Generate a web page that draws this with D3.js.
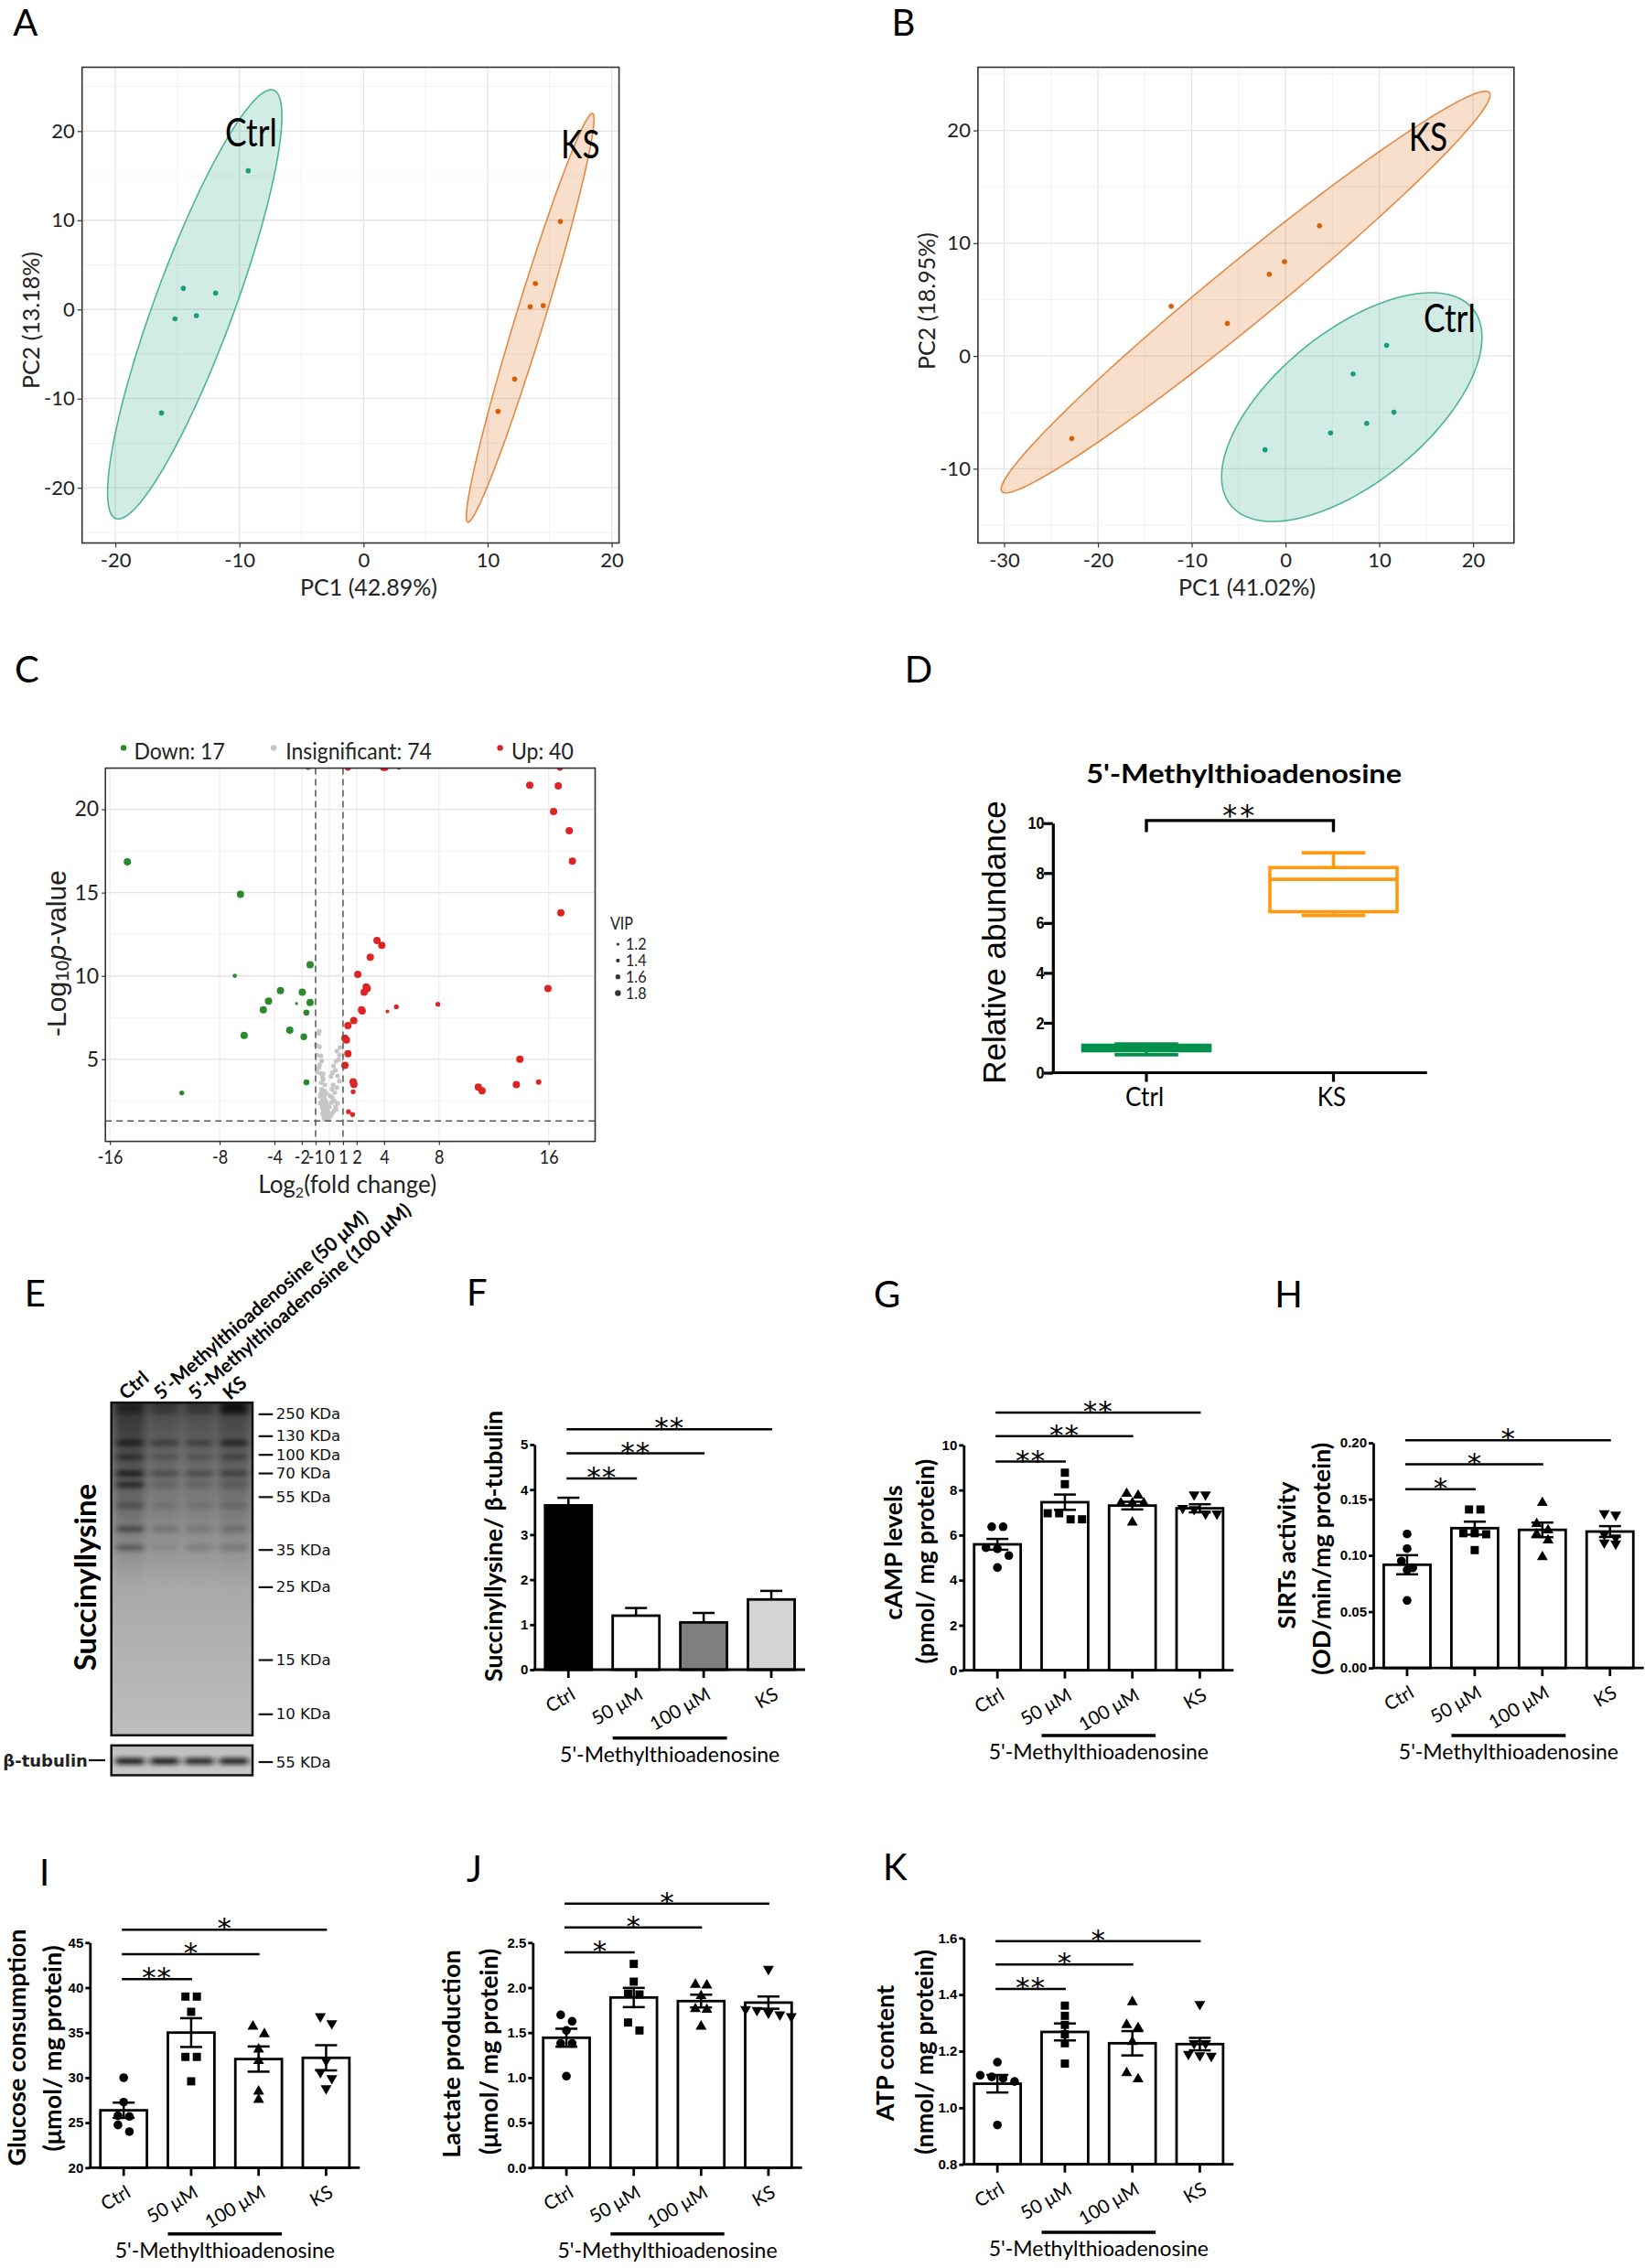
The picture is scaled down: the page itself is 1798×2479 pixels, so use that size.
<!DOCTYPE html>
<html>
<head>
<meta charset="utf-8">
<script src="https://cdn.jsdelivr.net/npm/d3@7/dist/d3.min.js"></script>
<style>
html,body{margin:0;padding:0;background:#fff;}
svg{display:block;}
</style>
</head>
<body>
<svg id="fig" width="1798" height="2479" xmlns="http://www.w3.org/2000/svg"></svg>
<script>
// ======================= DATA =======================
// A: PCA scores (PC1, PC2)
const pcaA_ctrl = [[-9.29,15.55],[-14.52,2.37],[-11.92,1.84],[-15.19,-1.05],[-13.47,-0.70],[-16.28,-11.61]];
const pcaA_ks   = [[15.86,9.86],[13.85,2.89],[13.43,0.31],[14.48,0.44],[12.18,-7.80],[10.84,-11.43]];
// confidence ellipses: centre + two conjugate semi-axis vectors (data units)
const pcaA_ellipses = [
  {cx:-13.6, cy:0.57, ux:6.28, uy:24.05, vx:3.15, vy:-0.90},
  {cx:13.43, cy:-0.94, ux:5.02, uy:22.93, vx:1.15, vy:-0.28}
];
const pcaA_labels = [{text:"Ctrl", x:-9.06, y:18.3},{text:"KS", x:17.47, y:16.96}];

// B: PCA scores
const pcaB_ctrl = [[10.78,0.94],[7.21,-1.60],[11.56,-4.99],[8.66,-5.97],[4.80,-6.83],[-2.18,-8.32]];
const pcaB_ks   = [[3.63,11.55],[-0.11,8.36],[-1.73,7.25],[-12.18,4.41],[-6.20,2.88],[-22.79,-7.32]];
const pcaB_ellipses = [
  {cx:7.07, cy:-4.53, ux:11.75, uy:9.51, vx:7.39, vy:-3.52},
  {cx:-4.25, cy:5.67, ux:25.92, uy:17.74, vx:2.80, vy:-1.575}
];
const pcaB_labels = [{text:"Ctrl", x:17.49, y:2.09},{text:"KS", x:15.21, y:18.2}];

// C: volcano plot  [log2FC, -log10 p, VIP]
const volcDown = [[-14.73,16.85,1.8],[-6.48,14.90,1.8],[-6.89,10.01,1.3],[-1.40,10.67,1.8],[-3.56,9.12,1.8],
  [-1.97,9.02,1.8],[-4.43,8.49,1.8],[-2.39,8.34,1.1],[-1.40,8.41,1.8],[-4.81,7.97,1.8],[-1.67,7.80,1.6],
  [-2.88,6.74,1.8],[-6.21,6.43,1.8],[-1.86,6.35,1.7],[-1.67,3.61,1.6],[-10.76,2.98,1.4],[-1.55,22.5,1.4]];
const volcUp = [[1.36,22.5,1.6],[3.94,22.5,1.7],[4.09,22.5,1.7],[5.08,22.5,1.3],[16.82,22.5,1.6],
  [14.62,21.45,1.8],[16.70,21.41,1.8],[16.36,19.87,1.8],[17.5,18.72,1.8],[17.73,16.89,1.8],[16.89,13.79,1.8],
  [3.48,12.12,1.8],[3.83,11.84,1.8],[2.99,11.12,1.8],[2.08,10.10,1.8],[2.69,9.34,1.8],[2.77,9.25,1.8],
  [2.54,9.02,1.8],[15.95,9.25,1.8],[7.92,8.30,1.4],[4.89,8.15,1.4],[4.24,7.87,1.2],[2.35,7.97,1.8],
  [1.78,7.32,1.8],[1.36,7.02,1.8],[1.14,6.26,1.8],[1.25,6.15,1.8],[1.36,5.33,1.8],[1.14,4.63,1.8],
  [13.9,5.0,1.8],[1.74,3.65,1.8],[1.74,3.05,1.4],[10.87,3.33,1.8],[11.14,3.11,1.8],[13.64,3.48,1.8],
  [15.27,3.63,1.5],[1.40,1.85,1.4],[1.70,1.68,1.4],[1.80,3.50,1.8],[2.40,7.90,1.8]];
const volcNs = [[-0.73,6.68],[-0.78,6.55],[-0.95,5.85],[-0.71,5.75],[-0.88,5.25],[-0.61,5.21],[-0.71,4.67],
  [-0.88,4.24],[-0.61,4.15],[-0.44,4.12],[-0.44,3.79],[-0.33,3.46],[-0.66,2.78],[-0.37,2.78],[-0.44,2.36],
  [-0.66,2.36],[-0.21,2.29],[-0.17,2.05],[-0.44,1.87],[-0.28,1.68],[-0.21,1.50],
  [0.79,5.71],[0.56,5.49],[0.74,5.25],[0.67,4.98],[0.49,4.88],[0.45,4.34],[0.23,4.19],[0.12,3.97],
  [0.74,3.69],[0.29,3.46],[-0.21,2.96],[0.23,2.69],[0.45,2.14],[0.0,2.14],[-0.11,1.87],
  [-0.55,3.20],[-0.50,3.05],[-0.35,3.10],[-0.60,2.95],[-0.45,2.60],[-0.30,2.55],[-0.55,2.50],[-0.25,2.45],
  [-0.40,2.20],[-0.52,2.10],[-0.30,2.00],[-0.20,1.95],[-0.35,1.80],[-0.48,1.75],[-0.15,1.72],[-0.30,1.60],
  [-0.40,1.55],[-0.10,1.55],[-0.25,1.45],[-0.35,1.40],[-0.05,1.42],[0.10,1.60],[0.20,1.75],[0.35,1.90],
  [0.50,2.00],[0.15,2.40],[0.35,2.50],[0.60,2.35],[0.05,2.80],[0.40,3.00],[0.55,3.30],[0.20,3.20],
  [-0.60,3.60],[-0.50,3.90],[-0.75,4.50],[-0.55,4.90],[0.30,4.60],[0.60,4.00]];
const volcTicksX = [-16,-8,-4,-2,-1,0,1,2,4,8,16];
const volcTicksY = [5,10,15,20];
const vipLegend = [1.2,1.4,1.6,1.8];
const fcThreshold = 1, pThreshold = 0.05;

// D: box plot  [min, q1, median, q3, max]
const boxCats = ["Ctrl","KS"];
const boxStats = [[0.72,0.88,1.0,1.1,1.15],[6.3,6.45,7.75,8.22,8.81]];

// E: western blot
const blotLanes = ["Ctrl","5'-Methylthioadenosine (50 μM)","5'-Methylthioadenosine (100 μM)","KS"];
const markerLabels = ["250 KDa","130 KDa","100 KDa","70 KDa","55 KDa","35 KDa","25 KDa","15 KDa","10 KDa"];
const markerRf = [0.035,0.101,0.157,0.213,0.284,0.443,0.555,0.774,0.937];
const bandRf = [0.015,0.121,0.164,0.213,0.247,0.31,0.38,0.436];
const bandIntensity = [[0.55,0.35,0.35,0.95],[0.8,0.5,0.45,0.8],[0.6,0.25,0.25,0.4],[0.95,0.45,0.45,0.55],
  [0.85,0.2,0.2,0.25],[0.4,0.15,0.15,0.2],[0.6,0.25,0.2,0.25],[0.5,0.1,0.2,0.25]];
const laneSmear = [0.45,0.2,0.2,0.3];
const tubulinIntensity = [0.95,0.95,0.9,0.92];

// F–K: bar charts (mean, SEM, individual values)
const barCats = ["Ctrl","50 μM","100 μM","KS"];
const fMeans = [3.65,1.20,1.05,1.56], fSem = [0.17,0.17,0.21,0.19], fSig = ["**","**","**"];
const gMeans = [5.59,7.46,7.31,7.19], gSem = [0.24,0.34,0.17,0.18], gSig = ["**","**","**"];
const gPoints = [[6.37,6.37,5.39,5.44,5.09,4.56],[8.77,8.26,6.97,6.97,6.70,6.70],[7.76,7.84,7.42,7.42,7.42,6.56],[7.80,7.80,7.20,6.95,6.95,7.15]];
const hMeans = [0.0917,0.1242,0.1227,0.1212], hSem = [0.0085,0.0058,0.0065,0.0048], hSig = ["*","*","*"];
const hPoints = [[0.119,0.106,0.095,0.089,0.087,0.060],[0.1408,0.1408,0.1188,0.1197,0.1197,0.1047],[0.1468,0.128,0.1188,0.1224,0.1134,0.0986],[0.136,0.1374,0.1158,0.1104,0.1113,0.1188]];
const iMeans = [26.37,35.0,32.06,32.2], iSem = [0.85,1.6,1.4,1.4], iSig = ["**","*","*"];
const iPoints = [[29.99,27.28,25.76,25.69,24.74,24.0],[39.0,39.0,37.31,32.30,32.30,29.59],[34.84,35.68,33.14,31.86,27.55,28.47],[36.02,36.8,31.89,30.6,29.93,28.8]];
const jMeans = [1.443,1.89,1.85,1.833], jSem = [0.10,0.107,0.071,0.068], jSig = ["*","*","*"];
const jPoints = [[1.697,1.626,1.524,1.38,1.38,1.016],[2.263,2.066,1.934,1.924,1.612,1.524],[2.026,2.033,1.907,1.755,1.762,1.568],[2.205,1.75,1.70,1.72,1.76,1.68]];
const kMeans = [1.085,1.268,1.228,1.225], kSem = [0.031,0.03,0.043,0.022], kSig = ["**","*","*"];
const kPoints = [[1.161,1.115,1.109,1.104,1.093,0.939],[1.361,1.325,1.293,1.26,1.228,1.156],[1.374,1.282,1.293,1.233,1.123,1.101],[1.366,1.228,1.228,1.19,1.185,1.183]];

// ======================= DRAWING =======================
const svg = d3.select("#fig");
svg.append("rect").attr("width",1798).attr("height",2479).attr("fill","#fff");
const defs = svg.append("defs");
const CAL = "Lato, 'Open Sans', 'DejaVu Sans', sans-serif";
const ARI = "'Liberation Sans', Arial, sans-serif";
const VER = "'DejaVu Sans', Verdana, sans-serif";

function txt(g, x, y, s, o = {}) {
  let tr = `translate(${x},${y})`;
  if (o.rotate) tr += ` rotate(${o.rotate})`;
  if (o.sx) tr += ` scale(${o.sx},1)`;
  const t = g.append("text").attr("transform", tr)
    .attr("font-family", o.family || CAL)
    .attr("font-size", o.size || 20)
    .attr("font-weight", o.weight || "normal")
    .attr("text-anchor", o.anchor || "start")
    .attr("fill", o.fill || "#000");
  if (o.baseline) t.attr("dominant-baseline", o.baseline);
  if (o.italic) t.attr("font-style", "italic");
  if (o.ls !== undefined) t.attr("letter-spacing", o.ls);
  if (s !== null) t.text(s);
  return t;
}
function ln(g, x1, y1, x2, y2, w, col, dash) {
  const l = g.append("line").attr("x1",x1).attr("y1",y1).attr("x2",x2).attr("y2",y2)
    .attr("stroke", col || "#000").attr("stroke-width", w || 1);
  if (dash) l.attr("stroke-dasharray", dash);
  return l;
}

// panel letters
[["A",14.2,38.5],["B",974.5,38.5],["C",15.9,745.5],["D",988.8,745.5],["E",26.7,1428.2],["F",510,1427.3],
 ["G",955,1428.5],["H",1393.3,1429.2],["I",43,2061],["J",510,2057],["K",965,2055]]
 .forEach(([l,x,y]) => txt(svg, x, y, l, {size:40}));

// ---------------- PCA ----------------
const GREEN = "#1b9e77", ORANGE = "#d95f02";
function drawPCA(c) {
  const g = svg.append("g");
  const x = d3.scaleLinear().domain(c.xDom).range([c.x0, c.x1]);
  const y = d3.scaleLinear().domain(c.yDom).range([c.y1, c.y0]);
  const clip = "clip" + c.id;
  defs.append("clipPath").attr("id", clip).append("rect")
    .attr("x", c.x0).attr("y", c.y0).attr("width", c.x1 - c.x0).attr("height", c.y1 - c.y0);
  const inner = g.append("g").attr("clip-path", `url(#${clip})`);
  d3.range(Math.ceil(c.xDom[0]/5)*5, c.xDom[1], 5).forEach(v =>
    ln(inner, x(v), c.y0, x(v), c.y1, v % 10 === 0 ? 1.3 : 0.9, v % 10 === 0 ? "#e4e4e4" : "#f1f1f1"));
  d3.range(Math.ceil(c.yDom[0]/5)*5, c.yDom[1], 5).forEach(v =>
    ln(inner, c.x0, y(v), c.x1, y(v), v % 10 === 0 ? 1.3 : 0.9, v % 10 === 0 ? "#e4e4e4" : "#f1f1f1"));
  const line = d3.line().x(d => x(d[0])).y(d => y(d[1])).curve(d3.curveLinearClosed);
  const fills = ["rgba(27,158,119,0.2)","rgba(217,95,2,0.2)"];
  const strokes = ["rgba(27,158,119,0.75)","rgba(217,95,2,0.7)"];
  c.ellipses.forEach((e, i) => {
    const pts = d3.range(0, 360, 2).map(a => { const t = a*Math.PI/180;
      return [e.cx + e.ux*Math.cos(t) + e.vx*Math.sin(t), e.cy + e.uy*Math.cos(t) + e.vy*Math.sin(t)]; });
    inner.append("path").attr("d", line(pts)).attr("fill", fills[i]).attr("stroke", strokes[i]).attr("stroke-width", 1.6);
  });
  c.groups.forEach((grp, i) => {
    inner.selectAll(null).data(grp).join("circle")
      .attr("cx", d => x(d[0])).attr("cy", d => y(d[1])).attr("r", 2.8).attr("fill", [GREEN, ORANGE][i]);
  });
  c.labels.forEach(l => txt(g, x(l.x), y(l.y), l.text, {size:42, anchor:"middle", sx:0.84}));
  g.append("rect").attr("x", c.x0).attr("y", c.y0).attr("width", c.x1-c.x0).attr("height", c.y1-c.y0)
    .attr("fill","none").attr("stroke","#333").attr("stroke-width",1.6);
  const xa = g.append("g").attr("transform", `translate(0,${c.y1})`)
    .call(d3.axisBottom(x).tickValues(c.xTicks).tickFormat(String).tickSize(5).tickPadding(6).tickSizeOuter(0));
  const ya = g.append("g").attr("transform", `translate(${c.x0},0)`)
    .call(d3.axisLeft(y).tickValues(c.yTicks).tickFormat(String).tickSize(5).tickPadding(3).tickSizeOuter(0));
  [xa, ya].forEach(a => {
    a.select(".domain").remove();
    a.selectAll(".tick line").attr("stroke","#333").attr("stroke-width",1.2);
    a.selectAll(".tick text").attr("font-family", CAL).attr("font-size", 22).attr("fill","#222");
  });
  txt(g, c.xtPos[0], c.xtPos[1], c.xTitle, {size:25, anchor:"middle", fill:"#222"});
  txt(g, c.ytPos[0], c.ytPos[1], c.yTitle, {size:25, anchor:"middle", rotate:-90, baseline:"central", fill:"#222"});
}
drawPCA({id:"A", x0:89.7, x1:676.6, y0:73.5, y1:593.5, xDom:[-22.68,20.59], yDom:[-26.19,27.16],
  xTicks:[-20,-10,0,10,20], yTicks:[-20,-10,0,10,20], groups:[pcaA_ctrl,pcaA_ks], ellipses:pcaA_ellipses,
  labels:pcaA_labels, xTitle:"PC1 (42.89%)", xtPos:[403,651], yTitle:"PC2 (13.18%)", ytPos:[33,350]});
drawPCA({id:"B", x0:1068.9, x1:1654.8, y0:73.5, y1:593.5, xDom:[-32.79,24.36], yDom:[-16.58,25.6],
  xTicks:[-30,-20,-10,0,10,20], yTicks:[-10,0,10,20], groups:[pcaB_ctrl,pcaB_ks], ellipses:pcaB_ellipses,
  labels:pcaB_labels, xTitle:"PC1 (41.02%)", xtPos:[1363,651], yTitle:"PC2 (18.95%)", ytPos:[1011.5,329]});

// ---------------- Volcano ----------------
(function drawVolcano() {
  const g = svg.append("g");
  const X0 = 115.2, X1 = 650.5, Y0 = 839.6, Y1 = 1247.6;
  const x = d3.scaleLinear().domain([-16.33,19.39]).range([X0,X1]);
  const y = d3.scaleLinear().domain([0.07,22.47]).range([Y1,Y0]);
  const r = d3.scaleLinear().domain([1.2,1.8]).range([2.0,4.0]);
  defs.append("clipPath").attr("id","clipC").append("rect").attr("x",X0).attr("y",Y0).attr("width",X1-X0).attr("height",Y1-Y0);
  const inner = g.append("g").attr("clip-path","url(#clipC)");
  [2.5,7.5,12.5,17.5,22.5].forEach(v => ln(inner, X0, y(v), X1, y(v), 0.9, "#f1f1f1"));
  volcTicksY.forEach(v => ln(inner, X0, y(v), X1, y(v), 1.3, "#e4e4e4"));
  volcTicksX.forEach(v => ln(inner, x(v), Y0, x(v), Y1, 1.1, "#ebebeb"));
  const RED = "#dc2424", DGREEN = "#2b8a2b", GRAY = "#c6c6c6";
  inner.selectAll(null).data(volcNs).join("circle").attr("cx",d=>x(d[0])).attr("cy",d=>y(d[1])).attr("r",2.6).attr("fill",GRAY);
  inner.selectAll(null).data(volcDown).join("circle").attr("cx",d=>x(d[0])).attr("cy",d=>y(d[1])).attr("r",d=>r(d[2])).attr("fill",DGREEN);
  inner.selectAll(null).data(volcUp).join("circle").attr("cx",d=>x(d[0])).attr("cy",d=>y(d[1])).attr("r",d=>r(d[2])).attr("fill",RED);
  const pl = -Math.log10(pThreshold);
  ln(inner, x(-fcThreshold), Y0, x(-fcThreshold), Y1, 1.5, "#555", "7,5");
  ln(inner, x(fcThreshold), Y0, x(fcThreshold), Y1, 1.5, "#555", "7,5");
  ln(inner, X0, y(pl), X1, y(pl), 1.5, "#555", "7,5");
  g.append("rect").attr("x",X0).attr("y",Y0).attr("width",X1-X0).attr("height",Y1-Y0)
    .attr("fill","none").attr("stroke","#333").attr("stroke-width",1.6);
  const xa = g.append("g").attr("transform",`translate(0,${Y1})`)
    .call(d3.axisBottom(x).tickValues(volcTicksX).tickFormat(String).tickSize(4).tickPadding(5).tickSizeOuter(0));
  const ya = g.append("g").attr("transform",`translate(${X0},0)`)
    .call(d3.axisLeft(y).tickValues(volcTicksY).tickFormat(String).tickSize(4).tickPadding(3).tickSizeOuter(0));
  [xa, ya].forEach(a => {
    a.select(".domain").remove();
    a.selectAll(".tick line").attr("stroke","#333").attr("stroke-width",1.2);
    a.selectAll(".tick text").attr("font-family",CAL).attr("font-size",23).attr("fill","#222");
  });
  xa.selectAll(".tick text").attr("font-size",22).attr("transform","scale(0.82,1)");
  // x title
  const xt = txt(g, 379.7, 1304, null, {size:26, anchor:"middle", fill:"#222"});
  xt.append("tspan").text("Log");
  xt.append("tspan").attr("font-size",16).attr("dy",5).text("2");
  xt.append("tspan").attr("dy",-5).text("(fold change)");
  // y title
  const yt = txt(g, 61, 1042, null, {family:ARI, size:30, anchor:"middle", rotate:-90, baseline:"central", fill:"#222"});
  yt.append("tspan").text("-Log");
  yt.append("tspan").attr("font-size",21).attr("dy",6).text("10");
  yt.append("tspan").attr("dy",-6).attr("font-style","italic").text("p");
  yt.append("tspan").text("-value");
  // top legend
  const leg = [[135.1,146.4,DGREEN,`Down: ${volcDown.length}`],[299.1,312.2,GRAY,`Insignificant: ${volcNs.length}`],[546.6,559,RED,`Up: ${volcUp.length}`]];
  leg.forEach(([cx,tx,col,s]) => {
    g.append("circle").attr("cx",cx).attr("cy",817.4).attr("r",3.2).attr("fill",col);
    txt(g, tx, 830, s, {size:25, sx:0.92, fill:"#222"});
  });
  // VIP legend
  txt(g, 666.9, 1016, "VIP", {size:19, sx:0.85, fill:"#222"});
  vipLegend.forEach((v,i) => {
    const yy = 1032.1 + i*17.8;
    g.append("circle").attr("cx",675.4).attr("cy",yy).attr("r",r(v)*0.8).attr("fill","#333");
    txt(g, 684, yy, String(v.toFixed(1)), {size:17, sx:0.95, baseline:"central", fill:"#222"});
  });
})();

// ---------------- Box plot D ----------------
(function drawBox() {
  const g = svg.append("g");
  const x = d3.scalePoint().domain(boxCats).range([1150.8,1559.7]).padding(0.5);
  const y = d3.scaleLinear().domain([0,10]).range([1172.5,899.7]);
  const step = x.step(), bw = step*0.68, cw = step*0.34;
  const cols = ["#00914d","#ff9a10"];
  boxStats.forEach((s,i) => {
    const xc = x(boxCats[i]), col = cols[i];
    const [mn,q1,md,q3,mx] = s;
    ln(g, xc, y(mx), xc, y(q3), 3.6, col);
    ln(g, xc, y(q1), xc, y(mn), 3.6, col);
    ln(g, xc-cw/2, y(mx), xc+cw/2, y(mx), 3.6, col);
    ln(g, xc-cw/2, y(mn), xc+cw/2, y(mn), 3.6, col);
    g.append("rect").attr("x",xc-bw/2).attr("y",y(q3)).attr("width",bw).attr("height",y(q1)-y(q3))
      .attr("fill","none").attr("stroke",col).attr("stroke-width",3.6);
    ln(g, xc-bw/2, y(md), xc+bw/2, y(md), 3.6, col);
  });
  const ya = g.append("g").attr("transform","translate(1150.8,0)")
    .call(d3.axisLeft(y).tickValues([0,2,4,6,8,10]).tickSize(10).tickPadding(1).tickSizeOuter(0));
  ya.select(".domain").attr("stroke-width",3.2);
  ya.selectAll(".tick line").attr("stroke-width",3.2);
  ya.selectAll(".tick text").attr("font-family",ARI).attr("font-weight","bold").attr("font-size",19).attr("transform","scale(0.85,1)");
  ln(g, 1149.2, y(0), 1559.7, y(0), 3.2);
  boxCats.forEach(k => {
    ln(g, x(k), y(0), x(k), y(0)+10, 3.2);
    txt(g, x(k)-2, 1209, k, {size:29, anchor:"middle", sx:0.9});
  });
  txt(g, 1086, 1030, "Relative abundance", {family:ARI, size:35, anchor:"middle", rotate:-90, baseline:"central"});
  txt(g, 1359.6, 856, "5'-Methylthioadenosine", {size:29, weight:"bold", anchor:"middle", sx:1.12});
  const bY = 896.9;
  g.append("path").attr("d",`M${x("Ctrl")},${bY+12.7}V${bY}H${x("KS")}V${bY+12.7}`)
    .attr("fill","none").attr("stroke","#000").attr("stroke-width",3.4);
  txt(g, (x("Ctrl")+x("KS"))/2, bY+5, "**", {family:VER, size:32, anchor:"middle", ls:3});
})();

// ---------------- Western blot E ----------------
(function drawBlot() {
  const g = svg.append("g");
  const bx0 = 121.7, bx1 = 276, by0 = 1533.1, by1 = 1896.7;
  const lane = d3.scaleBand().domain(blotLanes).range([bx0,bx1]).paddingInner(0.12).paddingOuter(0.1);
  const rf = d3.scaleLinear().domain([0,1]).range([by0,by1]);
  const bg = defs.append("linearGradient").attr("id","blotBg").attr("x1",0).attr("x2",0).attr("y1",0).attr("y2",1);
  [[0,"#505050"],[0.05,"#646464"],[0.18,"#7b7b7b"],[0.35,"#929292"],[0.55,"#a8a8a8"],[0.8,"#b4b4b4"],[1,"#bdbdbd"]]
    .forEach(([o,c]) => bg.append("stop").attr("offset",o).attr("stop-color",c));
  const sm = defs.append("linearGradient").attr("id","smear").attr("x1",0).attr("x2",0).attr("y1",0).attr("y2",1);
  [[0,1],[0.5,0.6],[1,0]].forEach(([o,a]) => sm.append("stop").attr("offset",o).attr("stop-color","#000").attr("stop-opacity",a));
  const tb = defs.append("linearGradient").attr("id","tubBg").attr("x1",0).attr("x2",0).attr("y1",0).attr("y2",1);
  [[0,"#bdbdbd"],[0.5,"#c9c9c9"],[1,"#c4c4c4"]].forEach(([o,c]) => tb.append("stop").attr("offset",o).attr("stop-color",c));
  defs.append("filter").attr("id","fBand").attr("x","-30%").attr("y","-200%").attr("width","160%").attr("height","500%")
    .append("feGaussianBlur").attr("stdDeviation","3.5 2.4");
  defs.append("filter").attr("id","fSmear").attr("x","-30%").attr("y","-30%").attr("width","160%").attr("height","160%")
    .append("feGaussianBlur").attr("stdDeviation","5 10");
  defs.append("clipPath").attr("id","clipBlot").append("rect").attr("x",bx0).attr("y",by0).attr("width",bx1-bx0).attr("height",by1-by0);
  const inner = g.append("g").attr("clip-path","url(#clipBlot)");
  inner.append("rect").attr("x",bx0).attr("y",by0).attr("width",bx1-bx0).attr("height",by1-by0).attr("fill","url(#blotBg)");
  blotLanes.forEach((l,i) => {
    inner.append("rect").attr("x",lane(l)).attr("y",by0).attr("width",lane.bandwidth()).attr("height",(by1-by0)*0.55)
      .attr("fill","url(#smear)").attr("opacity",laneSmear[i]).attr("filter","url(#fSmear)");
  });
  bandRf.forEach((r,j) => blotLanes.forEach((l,i) => {
    inner.append("rect").attr("x",lane(l)+2).attr("y",rf(r)-(j===0?7:3)).attr("width",lane.bandwidth()-4).attr("height",j===0?14:6)
      .attr("fill","#000").attr("opacity",bandIntensity[j][i]*0.75).attr("filter","url(#fBand)");
  }));
  g.append("rect").attr("x",bx0).attr("y",by0).attr("width",bx1-bx0).attr("height",by1-by0)
    .attr("fill","none").attr("stroke","#111").attr("stroke-width",2.5);
  // tubulin strip
  const ty0 = 1907.8, ty1 = 1940.4;
  defs.append("clipPath").attr("id","clipTub").append("rect").attr("x",bx0).attr("y",ty0).attr("width",bx1-bx0).attr("height",ty1-ty0);
  const tin = g.append("g").attr("clip-path","url(#clipTub)");
  tin.append("rect").attr("x",bx0).attr("y",ty0).attr("width",bx1-bx0).attr("height",ty1-ty0).attr("fill","url(#tubBg)");
  blotLanes.forEach((l,i) => {
    tin.append("rect").attr("x",lane(l)+1).attr("y",1921.5).attr("width",lane.bandwidth()-2).attr("height",7)
      .attr("fill","#111").attr("opacity",tubulinIntensity[i]).attr("filter","url(#fBand)");
  });
  g.append("rect").attr("x",bx0).attr("y",ty0).attr("width",bx1-bx0).attr("height",ty1-ty0)
    .attr("fill","none").attr("stroke","#111").attr("stroke-width",2.5);
  // markers
  markerLabels.forEach((m,i) => {
    const yy = rf(markerRf[i]);
    ln(g, 282.7, yy, 298.3, yy, 2.2, "#111");
    txt(g, 301.7, yy, m, {family:VER, size:16.5, baseline:"central", fill:"#111"});
  });
  ln(g, 282.7, 1926, 298.3, 1926, 2.2, "#111");
  txt(g, 301.7, 1926, "55 KDa", {family:VER, size:16.5, baseline:"central", fill:"#111"});
  txt(g, 3.3, 1924, "β-tubulin", {family:VER, size:18, weight:"bold", baseline:"central", fill:"#222"});
  ln(g, 97, 1924, 115, 1924, 2.2, "#111");
  txt(g, 91.7, 1724, "Succinyllysine", {size:33, weight:"bold", anchor:"middle", rotate:-90, baseline:"central"});
  blotLanes.forEach(l => txt(g, lane(l)+lane.bandwidth()/2-4, 1531, l, {size:21, weight:"bold", rotate:-41}));
})();

// ---------------- Bar charts F–K ----------------
function swarm(vals, y, thr, sp) {
  const pts = vals.map(v => ({v, py:y(v)})).sort((a,b) => a.py - b.py);
  const rows = [];
  pts.forEach(p => {
    const row = rows.find(r => Math.abs(r.py - p.py) < thr);
    if (row) row.items.push(p); else rows.push({py:p.py, items:[p]});
  });
  rows.forEach(r => r.items.forEach((p,i) => p.dx = (i - (r.items.length-1)/2) * sp));
  return pts;
}
function drawBar(c) {
  const g = svg.append("g");
  const x = d3.scaleBand().domain(barCats).range([c.ax, c.axEnd]).paddingInner(0.31).paddingOuter(0.155);
  const y = d3.scaleLinear().domain(c.dom).range([c.y0, c.yTop]);
  const bw = x.bandwidth(), cx = k => x(k) + bw/2;
  const SW = 2.8;
  g.selectAll(null).data(c.means).join("rect")
    .attr("x",(d,i) => x(barCats[i])).attr("y", d => y(d)).attr("width", bw).attr("height", d => c.y0 - y(d))
    .attr("fill",(d,i) => c.fills ? c.fills[i] : "#fff").attr("stroke","#000").attr("stroke-width",SW);
  if (c.points) {
    const shapes = [d3.symbolCircle, d3.symbolSquare, d3.symbolTriangle, d3.symbolTriangle];
    const sizes = [72, 80, 62, 62];
    c.points.forEach((vals,i) => {
      const pts = swarm(vals, y, 9, 12.5);
      g.selectAll(null).data(pts).join("path")
        .attr("d", d3.symbol().type(shapes[i]).size(sizes[i]))
        .attr("transform", p => `translate(${cx(barCats[i]) + p.dx},${p.py})` + (i === 3 ? " rotate(180)" : ""))
        .attr("fill","#000");
    });
  }
  c.means.forEach((m,i) => {
    const xc = cx(barCats[i]);
    const top = y(m + c.sem[i]), bot = c.errUp ? y(m) : y(m - c.sem[i]);
    ln(g, xc, top, xc, bot, 2.5);
    ln(g, xc-12, top, xc+12, top, 2.5);
    if (!c.errUp) ln(g, xc-12, bot, xc+12, bot, 2.5);
  });
  const ya = g.append("g").attr("transform",`translate(${c.ax},0)`)
    .call(d3.axisLeft(y).tickValues(c.ticks).tickFormat(c.fmt).tickSize(5).tickPadding(2).tickSizeOuter(0));
  ya.select(".domain").attr("stroke-width",SW);
  ya.selectAll(".tick line").attr("stroke-width",SW);
  ya.selectAll(".tick text").attr("font-family",ARI).attr("font-weight","bold").attr("font-size",15).attr("fill","#000");
  ln(g, c.ax - SW/2, c.y0, c.axEnd, c.y0, SW);
  barCats.forEach(k => {
    ln(g, cx(k), c.y0, cx(k), c.y0 + 9, SW);
    txt(g, cx(k) + 9, c.y0 + 31, k, {size:20.5, anchor:"end", rotate:-30});
  });
  const bx0 = x(barCats[1]), bx1 = x(barCats[2]) + bw;
  ln(g, bx0, c.bracketY, bx1, c.bracketY, 3.5);
  txt(g, (bx0+bx1)/2, c.bracketY + 26, "5'-Methylthioadenosine", {size:23, anchor:"middle"});
  c.sig.forEach((s,i) => {
    const x1 = cx(barCats[0]) - 2, x2 = cx(barCats[i+1]) + 1, yy = c.sigY[i];
    ln(g, x1, yy, x2, yy, 2.5);
    txt(g, (x1+x2)/2, yy + 9, s, {family:VER, size:31, anchor:"middle", ls:s.length > 1 ? 1 : 0});
  });
  c.titles.forEach((t,i) => txt(g, c.titleX[i], c.titleY[i], t,
    {size:27, weight:"bold", anchor:"middle", rotate:-90, baseline:"central"}));
}
const fInt = d3.format("d"), f1 = d3.format(".1f"), f2 = d3.format(".2f");
drawBar({means:fMeans, sem:fSem, points:null, sig:fSig, errUp:true, fills:["#000","#fff","#7f7f7f","#d4d4d4"],
  dom:[0,5], ticks:[0,1,2,3,4,5], fmt:fInt, ax:584.3, axEnd:880, y0:1825, yTop:1579,
  sigY:[1616,1588.6,1562.3], bracketY:1899.7, titles:["Succinyllysine/ β-tubulin"], titleX:[538.3], titleY:[1690]});
drawBar({means:gMeans, sem:gSem, points:gPoints, sig:gSig, dom:[0,10], ticks:[0,2,4,6,8,10], fmt:fInt,
  ax:1053.3, axEnd:1348.3, y0:1825.7, yTop:1579.4, sigY:[1597.5,1569.7,1543.9], bracketY:1897.1,
  titles:["cAMP levels","(pmol/ mg protein)"], titleX:[975,1010], titleY:[1697,1706.6]});
drawBar({means:hMeans, sem:hSem, points:hPoints, sig:hSig, dom:[0,0.2], ticks:[0,0.05,0.1,0.15,0.2], fmt:f2,
  ax:1501, axEnd:1796.7, y0:1823.1, yTop:1577.1, sigY:[1627.8,1600.5,1574.2], bracketY:1897.1,
  titles:["SIRTs activity","(OD/min/mg protein)"], titleX:[1405,1443], titleY:[1700,1703.8]});
drawBar({means:iMeans, sem:iSem, points:iPoints, sig:iSig, dom:[20,45], ticks:[20,25,30,35,40,45], fmt:fInt,
  ax:98.3, axEnd:393.3, y0:2369.3, yTop:2123.3, sigY:[2163.3,2136,2109.3], bracketY:2441.7,
  titles:["Glucose consumption","(μmol/ mg protein)"], titleX:[17,56], titleY:[2238,2239]});
drawBar({means:jMeans, sem:jSem, points:jPoints, sig:jSig, dom:[0,2.5], ticks:[0,0.5,1,1.5,2,2.5], fmt:f1,
  ax:582.3, axEnd:876.7, y0:2369.3, yTop:2123.3, sigY:[2134,2106.7,2080.7], bracketY:2441.7,
  titles:["Lactate production","(μmol/ mg protein)"], titleX:[492.5,533], titleY:[2245,2242.5]});
drawBar({means:kMeans, sem:kSem, points:kPoints, sig:kSig, dom:[0.8,1.6], ticks:[0.8,1.0,1.2,1.4,1.6], fmt:f1,
  ax:1053.3, axEnd:1348.3, y0:2365.7, yTop:2118.3, sigY:[2174,2147.3,2121.7], bracketY:2440,
  titles:["ATP content","(nmol/ mg protein)"], titleX:[966.7,1009], titleY:[2244,2243]});
</script>
</body>
</html>
